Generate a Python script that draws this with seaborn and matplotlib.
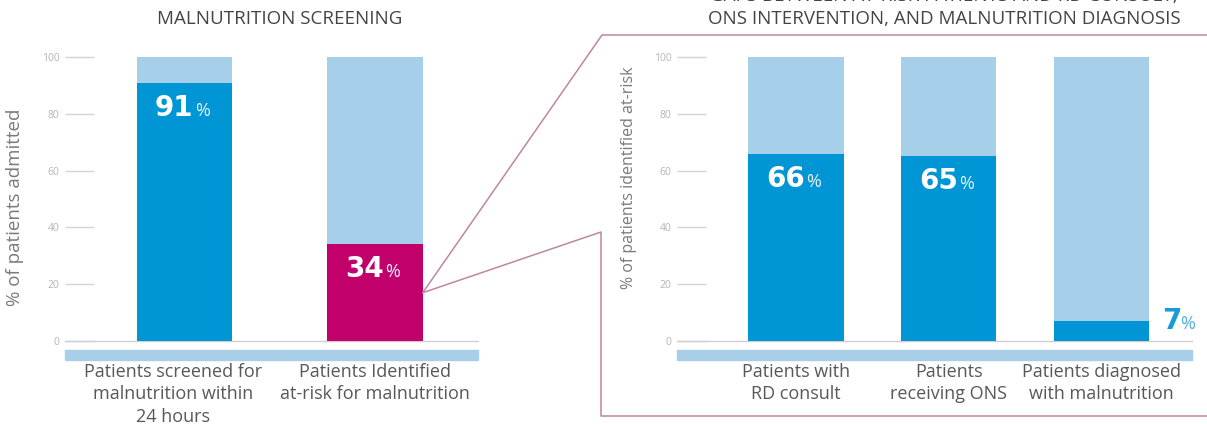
import matplotlib
matplotlib.use("Agg")
import matplotlib.pyplot as plt
import matplotlib.transforms as mtransforms
import seaborn as sns
import pandas as pd
from matplotlib.lines import Line2D

# ---------------- data ----------------
screen_categories = ["Patients screened for\nmalnutrition within\n24 hours",
                     "Patients Identified\nat-risk for malnutrition"]
screen_values = [91, 34]

gap_categories = ["Patients with\nRD consult",
                  "Patients\nreceiving ONS",
                  "Patients diagnosed\nwith malnutrition"]
gap_values = [66, 65, 7]

total_value = 100
y_ticks = [0, 20, 40, 60, 80, 100]

left_title = "MALNUTRITION SCREENING"
right_title_1 = "GAPS BETWEEN AT-RISK PATIENTS AND RD CONSULT,"
right_title_2 = "ONS INTERVENTION, AND MALNUTRITION DIAGNOSIS"
left_ylabel = "% of patients admitted"
right_ylabel = "% of patients identified at-risk"

# ---------------- style ----------------
DARK = "#0096D6"
LIGHT = "#A6D0EA"
MAGENTA = "#C2006B"
BAND = "#A9CFE8"
BOX = "#BE86A3"
FONT = ["Open Sans", "DejaVu Sans"]
NUMFONT = ["DejaVu Sans"]

sns.set_theme(style="white")
plt.rcParams["font.family"] = FONT

W, H = 1207, 424
fig = plt.figure(figsize=(W / 100, H / 100), dpi=100)


def px_axes(x0, x1, ytop, ybot):
    return fig.add_axes([x0 / W, (H - ybot) / H, (x1 - x0) / W, (ybot - ytop) / H])


def draw_panel(ax, cats, vals, colors, width, xlim, ylabel, ylab_size, ylab_xy):
    df = pd.DataFrame({"cat": cats, "val": vals, "tot": [total_value] * len(cats)})
    sns.barplot(data=df, x="cat", y="tot", color=LIGHT, saturation=1,
                width=width, ax=ax, zorder=2, linewidth=0, edgecolor="none")
    sns.barplot(data=df, x="cat", y="val", hue="cat", palette=colors,
                saturation=1, width=width, legend=False, ax=ax, zorder=3,
                linewidth=0, edgecolor="none")
    ax.set_xlim(*xlim)
    ax.set_ylim(0, 100)
    ax.set_yticks(y_ticks)
    ax.set_xlabel("")
    ax.set_ylabel(ylabel, fontsize=ylab_size, color="#7a7a7a")
    ax.yaxis.set_label_coords(*ylab_xy)
    for s in ["top", "right", "left"]:
        ax.spines[s].set_visible(False)
    ax.spines["bottom"].set_color("#cfcfcf")
    ax.spines["bottom"].set_linewidth(1)
    ax.tick_params(axis="y", left=True, direction="in", length=21, width=1,
                   color="#d3d3d3", labelsize=7.5, labelcolor="#b5b5b5", pad=4)
    ax.tick_params(axis="x", bottom=False, length=0, pad=16,
                   labelsize=13, labelcolor="#585858")
    for lab in ax.get_xticklabels():
        lab.set_linespacing(1.3)
    band = ax.axhspan(-6.7, -3.2, color=BAND, zorder=1)
    band.set_clip_on(False)
    # value labels
    for i, v in enumerate(vals):
        if v >= 20:
            ax.annotate(str(v), (i, v), xytext=(6.5, -23.8), textcoords="offset points",
                        ha="right", va="baseline", fontsize=20, fontweight="bold",
                        family=NUMFONT, color="white", zorder=5)
            ax.annotate("%", (i, v), xytext=(7.3, -23.8), textcoords="offset points",
                        ha="left", va="baseline", fontsize=13, color="#e3f2fb", zorder=5)
        else:
            ax.annotate(str(v), (i + width / 2, 0), xytext=(9.4, 8.6),
                        textcoords="offset points", ha="left", va="baseline",
                        fontsize=20, fontweight="bold", family=NUMFONT,
                        color="#1A9AD6", zorder=5, annotation_clip=False)
            ax.annotate("%", (i + width / 2, 0), xytext=(22.3, 8.6),
                        textcoords="offset points", ha="left", va="baseline",
                        fontsize=13, color="#4fb2e0", zorder=5, annotation_clip=False)


ax1 = px_axes(65, 478, 57, 341)
ax2 = px_axes(677, 1192, 57, 341)

w1 = 0.5
draw_panel(ax1, screen_categories, screen_values, [DARK, MAGENTA], w1,
           (-0.627, 1.54), left_ylabel, 13.5, (-0.100, 0.47))
w2 = 0.625
draw_panel(ax2, gap_categories, gap_values, [DARK, DARK, DARK], w2,
           (-0.78, 2.595), right_ylabel, 11.5, (-0.078, 0.574))

# first left category label sits a little left of its bar in the reference
first_lab = ax1.get_xticklabels()[0]
first_lab.set_transform(first_lab.get_transform() +
                        mtransforms.ScaledTranslation(-0.11, 0, fig.dpi_scale_trans))

# titles
fig.text(280 / W, 1 - 19 / H, left_title, ha="center", va="center",
         fontsize=13.5, color="#444444")
fig.text(944 / W, 1 - 19 / H, right_title_2, ha="center", va="center",
         fontsize=13.5, color="#444444")
fig.text(944 / W, 1 + 4 / H, right_title_1, ha="center", va="center",
         fontsize=13.5, color="#444444")

# callout connectors and box
fig.canvas.draw()
sx, sy = ax1.transData.transform((1 + w1 / 2, screen_values[1] / 2))
to_fig = fig.transFigure.inverted()
start = to_fig.transform((sx, sy))


def f(px, py):
    return (px / W, 1 - py / H)


for pts in ([tuple(start), f(602, 35), f(1207, 35)],
            [tuple(start), f(601, 232), f(601, 416), f(1207, 416)]):
    xs = [p[0] for p in pts]
    ys = [p[1] for p in pts]
    fig.add_artist(Line2D(xs, ys, transform=fig.transFigure, color=BOX, lw=1.1))

fig.savefig("out.png", dpi=100)
